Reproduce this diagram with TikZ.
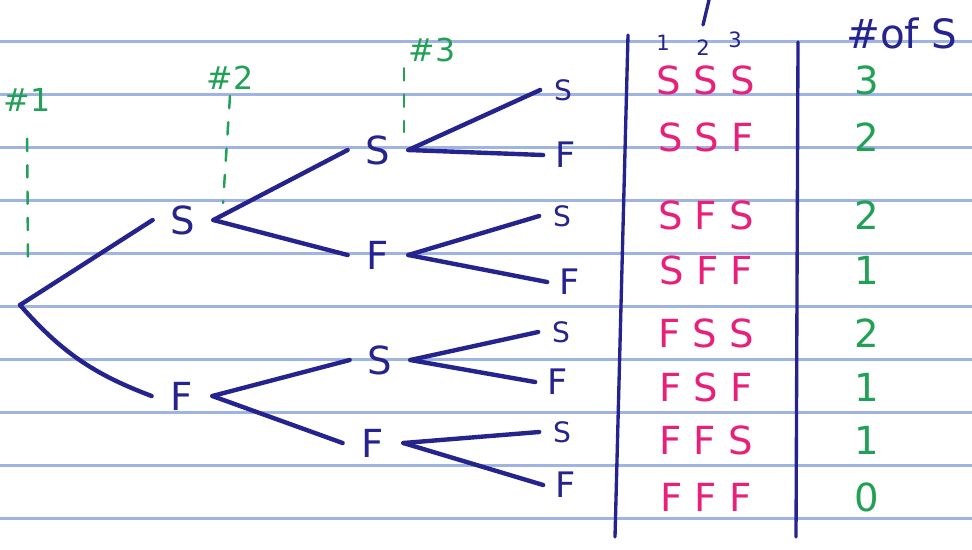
\documentclass[tikz,border=0pt]{standalone}
\usepackage{fontspec}
\setmainfont{DejaVu Sans}
\usetikzlibrary{calc, arrows.meta, positioning}
\definecolor{paperline}{HTML}{9FB4E4}
\definecolor{inkblue}{HTML}{25238E}
\definecolor{inkpink}{HTML}{E8207A}
\definecolor{inkgreen}{HTML}{22A055}

\begin{document}
\begin{tikzpicture}[
    x=0.02cm, y=-0.02cm,
    line cap=round,
    outcome/.style={text=inkblue, font=\fontsize{22}{24}\selectfont, minimum width=1.2cm, inner sep=0pt},
    leafs/.style={text=inkblue, font=\fontsize{16}{18}\selectfont, minimum width=0.9cm, inner sep=0pt},
    leaff/.style={text=inkblue, font=\fontsize{20}{22}\selectfont, minimum width=0.9cm, inner sep=0pt},
    branch/.style={draw=inkblue, line width=2.5pt},
    guide/.style={draw=inkgreen, line width=1.4pt, dash pattern=on 7pt off 8pt},
    trial/.style={text=inkgreen, font=\fontsize{18}{20}\selectfont},
    tablerule/.style={draw=inkblue, line width=1.9pt},
    seq/.style={text=inkpink, font=\fontsize{22}{24}\selectfont},
    count/.style={text=inkgreen, font=\fontsize{22}{24}\selectfont}
]

    \useasboundingbox (0,0) rectangle (972,549);

    % Lined paper
    \foreach \k in {0,...,9}
        \draw[paperline, line width=1.3pt] (0,{41.5+53*\k}) -- (972,{41.5+53*\k});

    % Trial labels
    \node[trial] (tone) at (27,100) {\#1};
    \node[trial] (ttwo) at (230,78) {\#2};
    \node[trial] (tthree) at (432,50) {\#3};
    \coordinate (gone) at (28,262);
    \coordinate (gtwo) at (223,203);
    \coordinate (gthree) at (404,132);
    \draw[guide, shorten <=12pt] (tone.south) -- (gone);
    \draw[guide] (ttwo.south) -- (gtwo);
    \draw[guide] (tthree.south west -| gthree) -- (gthree);

    % Tree
    \coordinate (root) at (20,305);
    \node[outcome] (s) at (183,220) {S};
    \node[outcome] (f) at (182,396) {F};
    \node[outcome] (ss) at (378,150) {S};
    \node[outcome] (sf) at (378,255) {F};
    \node[outcome] (fs) at (380,360) {S};
    \node[outcome] (ff) at (373,443) {F};

    \node[leafs] (sss) at (563,90) {S};
    \node[leaff] (ssf) at (566,155) {F};
    \node[leafs] (sfs) at (562,216) {S};
    \node[leaff] (sff) at (570,282) {F};
    \node[leafs] (fss) at (561,332) {S};
    \node[leaff] (fsf) at (558,382) {F};
    \node[leafs] (ffs) at (562,432) {S};
    \node[leaff] (fff) at (566,485) {F};

    \draw[branch] (root) -- (s.west);
    \draw[branch] (root) to[bend right=14] (f.west);
    \foreach \a/\b in {s/ss, s/sf, f/fs, f/ff, ss/sss, ss/ssf, sf/sfs, sf/sff, fs/fss, fs/fsf, ff/ffs, ff/fff}
        \draw[branch] (\a.east) -- (\b.west);

    % Outcome table
    \draw[tablerule] (628,35) -- (615,537);
    \draw[tablerule] (798,42) -- (796,537);
    \draw[tablerule] (709,0) -- (703,25);
    \foreach \d/\x/\y in {1/663/43, 2/703/48, 3/735/40}
        \node[text=inkblue, font=\fontsize{12}{14}\selectfont] (pos\d) at (\x,\y) {\d};
    \node[text=inkblue, font=\fontsize{23}{25}\selectfont] (nums) at (902,33) {\#of S};

    \foreach \s/\n/\y [count=\i] in {S S S/3/80, S S F/2/137, S F S/2/215, S F F/1/270, F S S/2/333, F S F/1/387, F F S/1/440, F F F/0/497} {
        \node[seq] (seq\i) at (706,\y) {\s};
        \node[count] (cnt\i) at (867,\y) {\n};
    }

\end{tikzpicture}
\end{document}
